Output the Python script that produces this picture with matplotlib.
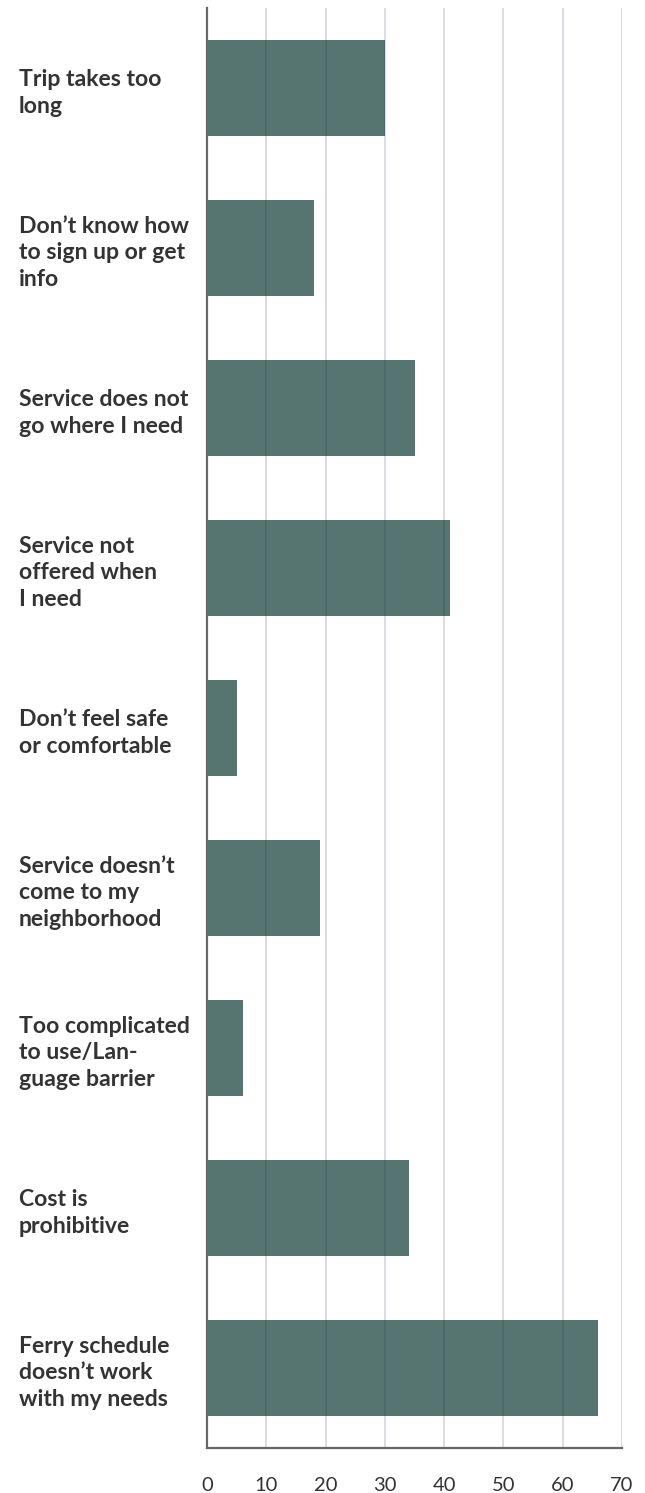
import matplotlib
matplotlib.use("Agg")
import matplotlib.pyplot as plt

categories = [
    "Trip takes too\nlong",
    "Don\u2019t know how\nto sign up or get\ninfo",
    "Service does not\ngo where I need",
    "Service not\noffered when\nI need",
    "Don\u2019t feel safe\nor comfortable",
    "Service doesn\u2019t\ncome to my\nneighborhood",
    "Too complicated\nto use/Lan-\nguage barrier",
    "Cost is\nprohibitive",
    "Ferry schedule\ndoesn\u2019t work\nwith my needs",
]
values = [30, 18, 35, 41, 5, 19, 6, 34, 66]
xticks = [0, 10, 20, 30, 40, 50, 60, 70]

plt.rcParams['font.family'] = ['Lato', 'DejaVu Sans']

fig = plt.figure(figsize=(6.45, 14.93), dpi=100)
ax = fig.add_axes([207/645, 1 - 1448/1493, (622-207)/645, (1448-8)/1493])

ypos = list(range(len(categories)))
ax.barh(ypos, values, height=0.6, color="#567570", zorder=1)

ax.set_xlim(0, 70)
ax.set_ylim(len(categories) - 0.5, -0.5)
ax.set_xticks(xticks)
ax.set_xticklabels([str(t) for t in xticks], fontsize=14.5, color="#333333")
ax.set_yticks(ypos)
ax.set_yticklabels(categories, fontsize=16.6, fontweight="bold", color="#333333",
                   ha="left", linespacing=1.33)

ax.tick_params(axis="both", length=0)
ax.tick_params(axis="x", pad=21)
ax.tick_params(axis="y", pad=(207 - 19) * 0.72)
ax.xaxis.grid(True, color="#203050", linewidth=1.3, alpha=0.18, zorder=2)
ax.set_axisbelow(False)
for s in ["top", "right"]:
    ax.spines[s].set_visible(False)
for s in ["left", "bottom"]:
    ax.spines[s].set_color("#666666")
    ax.spines[s].set_linewidth(1.6)
    ax.spines[s].set_zorder(3)

fig.savefig("out.png", dpi=100)
